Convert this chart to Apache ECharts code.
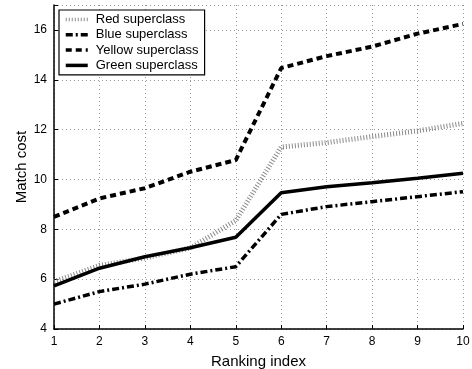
<!DOCTYPE html>
<html><head><meta charset="utf-8">
<script src="https://cdn.jsdelivr.net/npm/echarts@6/dist/echarts.min.js"></script>
<style>html,body{margin:0;padding:0;background:#fff}#c{width:472px;height:369px}</style>
</head><body><div id="c"></div>
<script>
var categories = [1,2,3,4,5,6,7,8,9,10];
var redValues = [5.9, 6.55, 6.85, 7.25, 8.35, 11.3, 11.48, 11.72, 11.95, 12.25];
var blueValues = [5.0, 5.5, 5.8, 6.2, 6.5, 8.6, 8.91, 9.11, 9.31, 9.51];
var yellowValues = [8.5, 9.24, 9.65, 10.31, 10.78, 14.47, 14.95, 15.33, 15.85, 16.24];
var greenValues = [5.73, 6.44, 6.9, 7.26, 7.68, 9.47, 9.71, 9.87, 10.05, 10.25];
var seriesNames = ['Red superclass','Blue superclass','Yellow superclass','Green superclass'];
var yTicks = [4,6,8,10,12,14,16];

function pairs(v){ return categories.map(function(c,i){ return [c, v[i]]; }); }
var font = 'Liberation Sans, Arial, Helvetica, sans-serif';
var chart = echarts.init(document.getElementById('c'));
var gridLine = {show:true, lineStyle:{color:'#999', type:[1,3], width:1}};
chart.setOption({
  animation:false,
  grid:{left:54, right:9, top:5, bottom:40, outerBoundsMode:'none', containLabel:false},
  legend:{
    show:true, left:59, top:10, orient:'vertical', itemGap:2.3, itemWidth:22, itemHeight:12,
    itemStyle:{opacity:0},
    lineStyle:{width:3.5},
    padding:[3,6,3,5], borderColor:'#000', borderWidth:1.2, backgroundColor:'#fff',
    textStyle:{fontFamily:font, fontSize:13, color:'#000', padding:[0,0,0,3]},
    data: seriesNames
  },
  xAxis:{
    type:'value', min:1, max:10, interval:1,
    name:'Ranking index', nameLocation:'middle', nameGap:25, nameMoveOverlap:false,
    nameTextStyle:{fontFamily:font, fontSize:15, color:'#000'},
    axisLine:{show:true, lineStyle:{color:'#000', width:1.5}},
    axisTick:{show:true, inside:true, length:4, lineStyle:{color:'#000'}},
    axisLabel:{fontFamily:font, fontSize:12, color:'#000', margin:7},
    splitLine:gridLine
  },
  yAxis:{
    type:'value', min:4, max:17, interval:2,
    name:'Match cost', nameLocation:'middle', nameGap:25, nameMoveOverlap:false,
    nameTextStyle:{fontFamily:font, fontSize:15, color:'#000'},
    axisLine:{show:true, lineStyle:{color:'#000', width:1.5}},
    axisTick:{show:true, inside:true, length:4, lineStyle:{color:'#000'}},
    axisLabel:{fontFamily:font, fontSize:12, color:'#000', margin:7,
      formatter:function(v){ return yTicks.indexOf(v) >= 0 ? String(v) : ''; }},
    splitLine:gridLine
  },
  series:[
    {name:seriesNames[0], type:'line', data:pairs(redValues), symbol:'none', z:2,
     itemStyle:{color:'#8a8a8a'},
     lineStyle:{color:'#8a8a8a', width:5, type:[1,2], cap:'butt'}},
    {name:seriesNames[1], type:'line', data:pairs(blueValues), symbol:'none', z:3,
     itemStyle:{color:'#000'},
     lineStyle:{color:'#000', width:3.5, type:[7,3,2,3], cap:'butt'}},
    {name:seriesNames[2], type:'line', data:pairs(yellowValues), symbol:'none', z:3,
     itemStyle:{color:'#000'},
     lineStyle:{color:'#000', width:4, type:[6,4], cap:'butt'}},
    {name:seriesNames[3], type:'line', data:pairs(greenValues), symbol:'none', z:4,
     itemStyle:{color:'#000'},
     lineStyle:{color:'#000', width:3.5, type:'solid'}}
  ]
});
</script></body></html>
